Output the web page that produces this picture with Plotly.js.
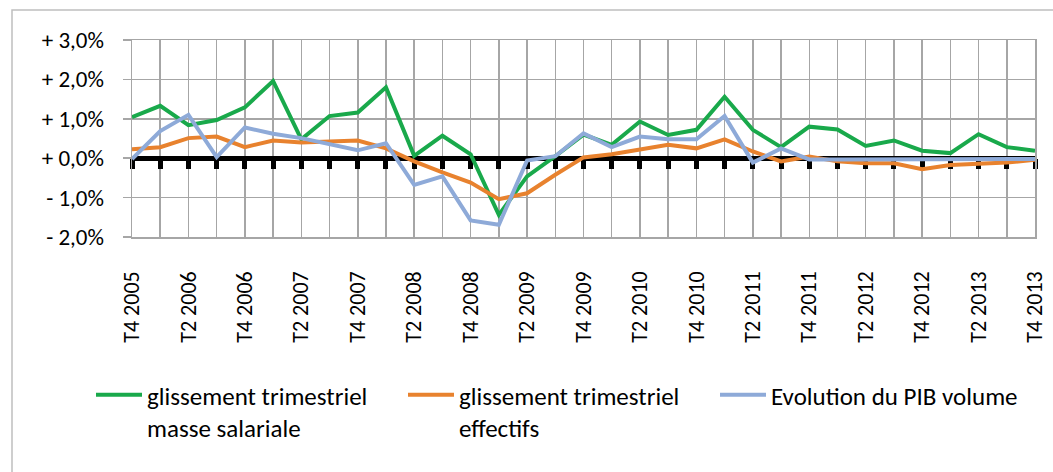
<!DOCTYPE html>
<html>
<head>
<meta charset="utf-8">
<script src="https://cdn.plot.ly/plotly-3.0.1.min.js"></script>
<style>
  html, body { margin: 0; padding: 0; background: #ffffff; }
  #chart { width: 1053px; height: 472px; }
</style>
</head>
<body>
<div id="chart"></div>
<script>
// ---- Data ----
var categories = [
  "T4 2005", "T1 2006", "T2 2006", "T3 2006", "T4 2006",
  "T1 2007", "T2 2007", "T3 2007", "T4 2007",
  "T1 2008", "T2 2008", "T3 2008", "T4 2008",
  "T1 2009", "T2 2009", "T3 2009", "T4 2009",
  "T1 2010", "T2 2010", "T3 2010", "T4 2010",
  "T1 2011", "T2 2011", "T3 2011", "T4 2011",
  "T1 2012", "T2 2012", "T3 2012", "T4 2012",
  "T1 2013", "T2 2013", "T3 2013", "T4 2013"
];

var masseSalariale = [1.04, 1.33, 0.84, 0.97, 1.29, 1.96, 0.48, 1.07, 1.16, 1.80, 0.06, 0.57, 0.10, -1.44, -0.46, 0.05, 0.60, 0.34, 0.93, 0.59, 0.72, 1.56, 0.72, 0.28, 0.80, 0.73, 0.31, 0.45, 0.19, 0.13, 0.61, 0.28, 0.19];
var effectifs = [0.23, 0.28, 0.51, 0.55, 0.28, 0.45, 0.40, 0.42, 0.45, 0.25, -0.08, -0.36, -0.62, -1.04, -0.89, -0.42, 0.02, 0.10, 0.23, 0.34, 0.25, 0.48, 0.17, -0.08, 0.04, -0.08, -0.13, -0.13, -0.28, -0.17, -0.14, -0.11, -0.04];
var pibVolume = [-0.02, 0.69, 1.10, 0.03, 0.78, 0.62, 0.51, 0.36, 0.20, 0.38, -0.68, -0.46, -1.58, -1.69, -0.06, 0.05, 0.63, 0.28, 0.55, 0.48, 0.48, 1.07, -0.11, 0.25, -0.03, -0.03, -0.03, -0.03, -0.03, -0.03, -0.03, -0.03, -0.02];

var seriesNames = [
  "glissement trimestriel<br>masse salariale",
  "glissement trimestriel<br>effectifs",
  "Evolution du PIB volume"
];

var yTickVals = [-2, -1, 0, 1, 2, 3];
var yTickText = ["- 2,0%", "- 1,0%", "+ 0,0%", "+ 1,0%", "+ 2,0%", "+ 3,0%"];

// tick labels: every second quarter
var xTickText = categories.map(function (c, i) { return i % 2 === 0 ? c : ""; });

// ---- Layout helpers ----
var W = 1053, H = 472;
var M = { l: 132, r: 18, t: 40, b: 235 };
var PW = W - M.l - M.r, PH = H - M.t - M.b;
function px2x(px) { return (px - M.l) / PW; }
function px2y(py) { return (H - M.b - py) / PH; }

var FONT = "Carlito, Lato, 'Liberation Sans', sans-serif";
var GRID = "#a6a6a6";

var traces = [
  { x: categories, y: masseSalariale, name: seriesNames[0], type: "scatter", mode: "lines",
    line: { color: "#19a94b", width: 4 } },
  { x: categories, y: effectifs, name: seriesNames[1], type: "scatter", mode: "lines",
    line: { color: "#e8822e", width: 4 } },
  { x: categories, y: pibVolume, name: seriesNames[2], type: "scatter", mode: "lines",
    xaxis: "x2", line: { color: "#8eaad8", width: 4 } }
];

var yZeroPos = (0 - yTickVals[0]) / (yTickVals[yTickVals.length - 1] - yTickVals[0]);

var layout = {
  width: W, height: H,
  margin: Object.assign({ autoexpand: false }, M),
  paper_bgcolor: "#ffffff",
  plot_bgcolor: "#ffffff",
  font: { family: FONT, color: "#000000", size: 22 },
  showlegend: true,
  xaxis: {
    type: "category",
    range: [0, categories.length - 1],
    tickmode: "array",
    tickvals: categories,
    ticktext: xTickText,
    tickangle: -90,
    ticks: "",
    ticklabelstandoff: 24,
    showgrid: true, gridcolor: GRID, gridwidth: 1.5,
    showline: true, mirror: true, linecolor: GRID, linewidth: 1.5,
    zeroline: false,
    tickfont: { family: FONT, size: 22, color: "#000000" },
    automargin: false,
    fixedrange: true
  },
  xaxis2: {
    type: "category",
    overlaying: "x",
    anchor: "free",
    position: yZeroPos,
    side: "bottom",
    range: [0, categories.length - 1],
    tickmode: "array",
    tickvals: categories,
    ticktext: categories.map(function () { return ""; }),
    showticklabels: false,
    ticks: "outside",
    ticklen: 10,
    tickwidth: 5,
    tickcolor: "#000000",
    showgrid: false,
    showline: false,
    zeroline: false,
    layer: "below traces",
    automargin: false,
    fixedrange: true
  },
  yaxis: {
    range: [yTickVals[0], yTickVals[yTickVals.length - 1]],
    tickmode: "array",
    tickvals: yTickVals,
    ticktext: yTickText,
    ticks: "outside",
    ticklen: 8,
    tickwidth: 1.5,
    tickcolor: GRID,
    ticklabelstandoff: 14,
    showgrid: true, gridcolor: GRID, gridwidth: 1.5,
    showline: true, mirror: true, linecolor: GRID, linewidth: 1.5,
    zeroline: true, zerolinecolor: "#000000", zerolinewidth: 5,
    tickfont: { family: FONT, size: 23, color: "#000000" },
    automargin: false,
    fixedrange: true
  },
  legend: {
    orientation: "h",
    xref: "paper", yref: "paper",
    x: px2x(91), xanchor: "left",
    y: px2y(372), yanchor: "top",
    valign: "top",
    entrywidth: 251,
    entrywidthmode: "pixels",
    itemwidth: 46,
    traceorder: "normal",
    font: { family: FONT, size: 25, color: "#000000" },
    bgcolor: "rgba(0,0,0,0)",
    borderwidth: 0
  },
  shapes: [
    { type: "rect", xref: "paper", yref: "paper",
      x0: px2x(12), x1: px2x(1070), y0: px2y(490), y1: px2y(10),
      line: { color: "#bfbfbf", width: 1.5 }, fillcolor: "rgba(0,0,0,0)", layer: "below" }
  ]
};

Plotly.newPlot("chart", traces, layout, { displayModeBar: false, staticPlot: true });
</script>
</body>
</html>
